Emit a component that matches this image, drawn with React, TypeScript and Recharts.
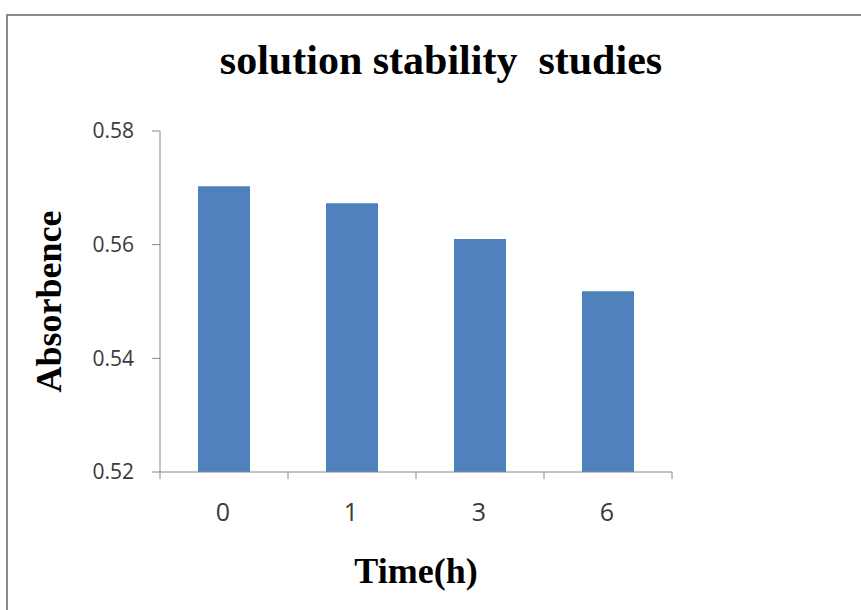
import React from 'react';
import { BarChart, Bar, XAxis, YAxis } from 'recharts';

const categories = ['0', '1', '3', '6'];
const absorbance = [0.5703, 0.5673, 0.561, 0.5518];
const yTicks = [0.52, 0.54, 0.56, 0.58];
const titleText = 'solution stability\u00a0\u00a0studies';
const xLabel = 'Time(h)';
const yLabel = 'Absorbence';

const data = categories.map((c, i) => ({ time: c, value: absorbance[i] }));

const W = 861;
const H = 610;
const M = { top: 131, right: 189, bottom: 108, left: 80 };
const YW = 80;
const XH = 30;
const plotW = W - M.left - YW - M.right;
const plotH = H - M.top - M.bottom - XH;
const band = plotW / categories.length;
const axisY = M.top + plotH;
const AXIS = '#868686';
const TICK_COLOR = '#3a3a3a';

const XTick = (props: any) => {
  const { x, payload, index } = props;
  return (
    <g>
      <line x1={x - band / 2} y1={axisY} x2={x - band / 2} y2={axisY + 7} stroke={AXIS} />
      {index === categories.length - 1 && (
        <line x1={x + band / 2} y1={axisY} x2={x + band / 2} y2={axisY + 7} stroke={AXIS} />
      )}
      <text x={x - 1} y={axisY + 49} textAnchor="middle" fontFamily="Open Sans" fontSize={25} fill={TICK_COLOR}>
        {payload.value}
      </text>
    </g>
  );
};

export default function App() {
  return (
    <div style={{ position: 'fixed', left: 0, top: 0, width: W, height: H, overflow: 'hidden', background: '#fff' }}>
      <div
        style={{
          position: 'absolute',
          left: 6,
          top: 14,
          width: 1000,
          height: 1000,
          borderLeft: '2px solid #8a8a8a',
          borderTop: '2px solid #8a8a8a',
        }}
      />
      <div style={{ position: 'absolute', left: 0, top: 0 }}>
        <BarChart width={W} height={H} data={data} margin={M}>
          <XAxis
            dataKey="time"
            height={XH}
            stroke={AXIS}
            tickLine={false}
            tick={<XTick />}
            interval={0}
          />
          <YAxis
            width={YW}
            domain={[0.52, 0.58]}
            ticks={yTicks}
            allowDataOverflow
            stroke={AXIS}
            tickSize={8}
            tickMargin={18}
            tickFormatter={(v: number) => v.toFixed(2)}
            tick={{ fontFamily: 'Open Sans', fontSize: 21, fill: TICK_COLOR }}
          />
          <Bar dataKey="value" fill="#4f81bd" barSize={52} isAnimationActive={false} />
        </BarChart>
      </div>
      <svg width={W} height={H} style={{ position: 'absolute', left: 0, top: 0, pointerEvents: 'none' }}>
        <text x={441} y={74} textAnchor="middle" fontFamily="Liberation Serif" fontWeight="bold" fontSize={42} fill="#000">
          {titleText}
        </text>
        <text x={416} y={583} textAnchor="middle" fontFamily="Liberation Serif" fontWeight="bold" fontSize={36} fill="#000">
          {xLabel}
        </text>
        <text
          x={0}
          y={0}
          transform={`translate(61, ${M.top + plotH / 2}) rotate(-90)`}
          textAnchor="middle"
          fontFamily="Liberation Serif"
          fontWeight="bold"
          fontSize={36}
          fill="#000"
        >
          {yLabel}
        </text>
      </svg>
    </div>
  );
}
